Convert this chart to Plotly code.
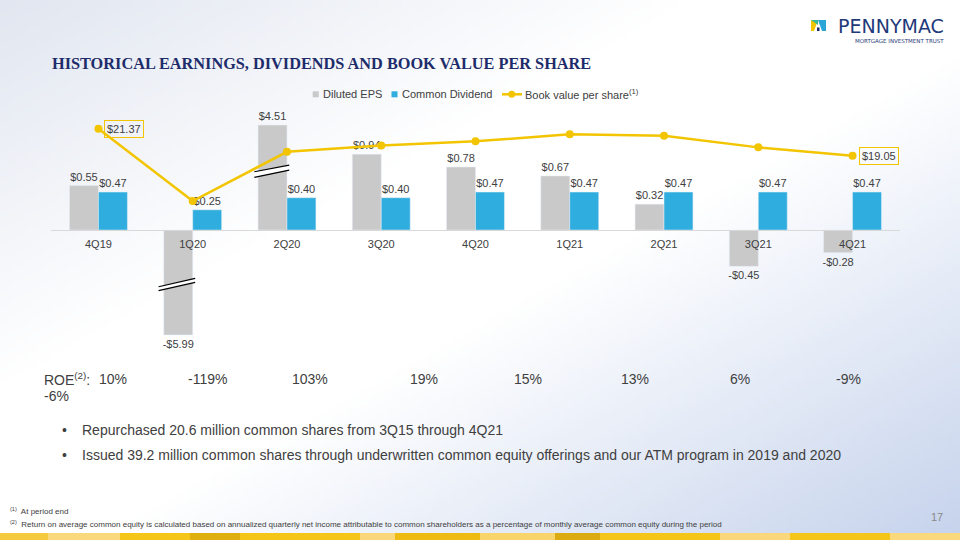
import base64
import struct
import zlib

import numpy as np
import plotly.graph_objects as go

# --- data
quarters = ["4Q19", "1Q20", "2Q20", "3Q20", "4Q20", "1Q21", "2Q21", "3Q21", "4Q21"]
diluted_eps = [0.55, -5.99, 4.51, 0.94, 0.78, 0.67, 0.32, -0.45, -0.28]
common_dividend = [0.47, 0.25, 0.40, 0.40, 0.47, 0.47, 0.47, 0.47, 0.47]
book_value = [21.37, 15.16, 19.39, 19.94, 20.29, 20.89, 20.77, 19.77, 19.05]
roe = ["10%", "-119%", "103%", "19%", "15%", "13%", "6%", "-9%", "-6%"]
bullets = [
    "Repurchased 20.6 million common shares from 3Q15 through 4Q21",
    "Issued 39.2 million common shares through underwritten common equity offerings and our ATM program in 2019 and 2020",
]
footnotes = [
    "At period end",
    "Return on average common equity is calculated based on annualized quarterly net income attributable to common shareholders as a percentage of monthly average common equity during the period",
]

W, H = 960, 540
EPS_CAP = 1.3  # bars beyond this are drawn broken
NAVY = "#1E2C6B"
GREY_TXT = "#404040"
GOLD = "#F2C500"
EPS_GREY = "#C9C9C9"
DIV_BLUE = "#2EADDE"
BODY = "Liberation Sans, Arial, sans-serif"


def px(x):
    return x / W


def py(y):
    return 1 - y / H


def money(v):
    return ("-$" if v < 0 else "$") + f"{abs(v):.2f}"


def gradient_uri(w=192, h=108):
    tl = np.array([225, 230, 240])
    br = np.array([198, 211, 236])
    white = np.array([255, 255, 255])
    rows = []
    for j in range(h):
        row = bytearray([0])
        for i in range(w):
            t = (i / (w - 1) + j / (h - 1)) / 2
            if t < 0.36:
                c = tl + (white - tl) * (t / 0.36)
            elif t < 0.55:
                c = white
            else:
                c = white + (br - white) * ((t - 0.55) / 0.45)
            row += bytes(int(round(v)) for v in c)
        rows.append(bytes(row))
    raw = b"".join(rows)

    def chunk(tag, data):
        return struct.pack(">I", len(data)) + tag + data + struct.pack(">I", zlib.crc32(tag + data) & 0xffffffff)

    png = (b"\x89PNG\r\n\x1a\n"
           + chunk(b"IHDR", struct.pack(">IIBBBBB", w, h, 8, 2, 0, 0, 0))
           + chunk(b"IDAT", zlib.compress(raw))
           + chunk(b"IEND", b""))
    return "data:image/png;base64," + base64.b64encode(png).decode()


def txt(x, y, s, size, color=GREY_TXT, anchor="left", family=BODY):
    return dict(x=px(x), y=py(y), xref="paper", yref="paper", xanchor=anchor, yanchor="middle",
                text=s, showarrow=False, font=dict(family=family, size=size, color=color))


eps_shown = list(np.clip(diluted_eps, -EPS_CAP, EPS_CAP))

fig = go.Figure()
fig.add_trace(go.Bar(
    x=quarters, y=eps_shown, name="Diluted EPS", marker_color=EPS_GREY,
    text=[money(v) for v in diluted_eps], textposition="outside", constraintext="none",
    textfont=dict(size=11, color=GREY_TXT, family=BODY), cliponaxis=False,
))
fig.add_trace(go.Bar(
    x=quarters, y=common_dividend, name="Common Dividend", marker_color=DIV_BLUE,
    text=[money(v) for v in common_dividend], textposition="outside", constraintext="none",
    textfont=dict(size=11, color=GREY_TXT, family=BODY), cliponaxis=False,
))
fig.add_trace(go.Scatter(
    x=quarters, y=book_value, yaxis="y2", mode="lines+markers",
    name="Book value per share",
    line=dict(color=GOLD, width=2.5), marker=dict(size=8, color=GOLD),
))

shapes = []
# axis-break marks on the two clipped bars
for xl, xr, top, bot in [(1.654, 2.024, (0.722, 0.805), (0.653, 0.743)),
                         (0.638, 1.026, (-0.703, -0.599), (-0.752, -0.648))]:
    shapes.append(dict(type="path", xref="x", yref="y",
                       path=f"M {xl},{top[0]} L {xr},{top[1]} L {xr},{bot[1]} L {xl},{bot[0]} Z",
                       fillcolor="white", line=dict(width=0)))
    for a, b in (top, bot):
        shapes.append(dict(type="line", xref="x", yref="y", x0=xl, x1=xr, y0=a, y1=b,
                           line=dict(color="black", width=1.2)))

# legend drawn by hand (the slide's legend is tighter than plotly's)
shapes += [
    dict(type="rect", xref="paper", yref="paper", x0=px(312.7), x1=px(318.7), y0=py(97.3), y1=py(91.3),
         fillcolor=EPS_GREY, line=dict(width=0)),
    dict(type="rect", xref="paper", yref="paper", x0=px(391.5), x1=px(397.5), y0=py(97.3), y1=py(91.3),
         fillcolor=DIV_BLUE, line=dict(width=0)),
    dict(type="line", xref="paper", yref="paper", x0=px(502), x1=px(522), y0=py(94.3), y1=py(94.3),
         line=dict(color=GOLD, width=2.5)),
    dict(type="circle", xref="paper", yref="paper", x0=px(508.2), x1=px(515.2), y0=py(97.8), y1=py(90.8),
         fillcolor=GOLD, line=dict(width=0)),
]

# yellow band at the bottom of the slide
band = [(0, 48, "#F5CA3E"), (48, 120, "#F9D97C"), (120, 190, "#F5C518"), (190, 240, "#DFAF12"),
        (240, 360, "#F5C518"), (360, 395, "#F9D77A"), (395, 480, "#EDBB12"), (480, 555, "#F8D46A"),
        (555, 600, "#DCAB12"), (600, 720, "#F5C518"), (720, 790, "#F9D77A"), (790, 890, "#F5C518"),
        (890, 960, "#F9D97C")]
for x0, x1, c in band:
    shapes.append(dict(type="rect", xref="paper", yref="paper", x0=px(x0), x1=px(x1),
                       y0=0, y1=py(533), fillcolor=c, line=dict(width=0)))

# logo mark
shapes += [
    dict(type="path", xref="paper", yref="paper",
         path=f"M {px(811)},{py(20)} L {px(818)},{py(20)} L {px(814)},{py(31)} L {px(811)},{py(31)} Z",
         fillcolor="#F2C500", line=dict(width=0)),
    dict(type="path", xref="paper", yref="paper",
         path=f"M {px(818)},{py(20)} L {px(826)},{py(20)} L {px(826)},{py(31)} L {px(822)},{py(31)} Z",
         fillcolor="#2AA6D6", line=dict(width=0)),
    dict(type="path", xref="paper", yref="paper",
         path=f"M {px(811)},{py(20)} L {px(818)},{py(20)} L {px(818)},{py(25)} Z",
         fillcolor="#3BB89A", line=dict(width=0)),
    dict(type="rect", xref="paper", yref="paper", x0=px(817), x1=px(819.5), y0=py(31), y1=py(27.5),
         fillcolor=NAVY, line=dict(width=0)),
]

ann = []
ann.append(txt(50, 63, "<b>HISTORICAL EARNINGS, DIVIDENDS AND BOOK VALUE PER SHARE</b>", 16.3, NAVY,
               family="Liberation Serif, Times New Roman, serif"))
ann.append(txt(946, 26, "PENNYMAC", 19, "#1F3A7A", anchor="right", family="DejaVu Sans"))
ann.append(txt(946, 41, "MORTGAGE INVESTMENT TRUST", 5.5, "#1F3A7A", anchor="right", family="DejaVu Sans"))

# legend labels
ann.append(txt(320.5, 94.3, "Diluted EPS", 11))
ann.append(txt(399.5, 94.3, "Common Dividend", 11))
ann.append(txt(523, 94.3, "Book value per share<sup>(1)</sup>", 11))

# boxed book value labels at the ends of the line
for i in (0, len(quarters) - 1):
    ann.append(dict(x=quarters[i], y=book_value[i], xref="x", yref="y2", xanchor="left", yanchor="middle",
                    xshift=6, text=money(book_value[i]), showarrow=False, bordercolor=GOLD,
                    borderwidth=1, borderpad=2, font=dict(family=BODY, size=11, color=GREY_TXT)))

# ROE row (wraps like the slide)
ann.append(txt(42, 379, "ROE<sup>(2)</sup>:", 14))
roe_left = [97, 186, 290, 408, 512, 619, 728, 834, 42]
roe_y = [379] * 8 + [396]
for v, xl, yv in zip(roe, roe_left, roe_y):
    ann.append(txt(xl, yv, v, 14))

for k, b in enumerate(bullets):
    yb = 430 + 25 * k
    ann.append(txt(60, yb, "•", 14))
    ann.append(txt(80, yb, b, 14))

for k, f in enumerate(footnotes):
    ann.append(txt(8, 511 + 13 * k, f"<sup>({k + 1})</sup>  {f}", 8))

ann.append(txt(945, 517, "17", 11, "#8A8A8A", anchor="right"))

fig.update_layout(
    width=W, height=H, margin=dict(l=0, r=0, t=0, b=0),
    paper_bgcolor="white", plot_bgcolor="rgba(0,0,0,0)",
    barmode="group", bargap=0.386, bargroupgap=0, showlegend=False,
    font=dict(family=BODY, color=GREY_TXT),
    xaxis=dict(domain=[px(51), px(900)], anchor="free", position=py(230), showline=True,
               linecolor="#D9D9D9", linewidth=1, ticks="", showgrid=False, zeroline=False,
               ticklabelstandoff=4, tickfont=dict(size=11, color=GREY_TXT, family=BODY)),
    yaxis=dict(domain=[py(345), py(100)], range=[-1.425, 1.611], visible=False),
    yaxis2=dict(domain=[py(345), py(100)], overlaying="y", side="right", range=[2.79, 23.84], visible=False),
    shapes=shapes, annotations=ann,
    images=[dict(source=gradient_uri(), xref="paper", yref="paper", x=0, y=1, sizex=1, sizey=1,
                 xanchor="left", yanchor="top", sizing="stretch", layer="below")],
)

# the page's default body margin would push the slide 8px off the corner
fig.write_html("out.html", config={"displayModeBar": False},
               post_script="document.body.style.margin='0';")
